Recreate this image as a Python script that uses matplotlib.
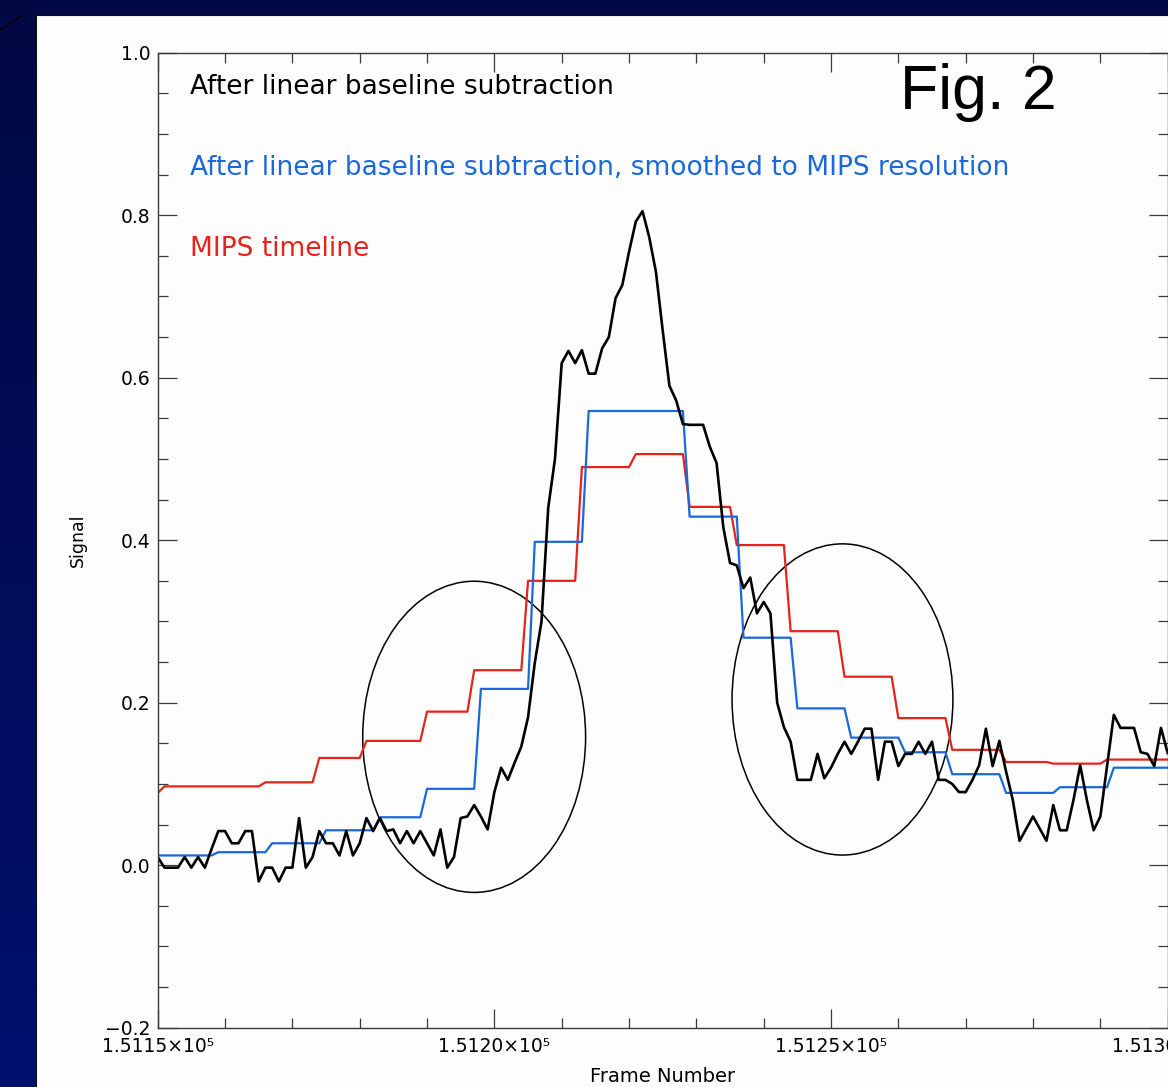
#!/usr/bin/env python3
"""Fig. 2: bolometer timeline against the MIPS timeline across a source."""

import matplotlib

matplotlib.use("Agg")
import matplotlib.pyplot as plt
import numpy as np
from matplotlib.colors import LinearSegmentedColormap
from matplotlib.lines import Line2D
from matplotlib.patches import Ellipse, Rectangle
from matplotlib.ticker import FuncFormatter, MultipleLocator


FIRST_FRAME = 151150
LAST_FRAME = 151300

# one sample per frame, 151150 .. 151300
BASELINE_SUBTRACTED = [
    0.010, -0.003, -0.003, -0.003, 0.010, -0.003, 0.010, -0.003, 0.020, 0.042,
    0.042, 0.027, 0.027, 0.042, 0.042, -0.020, -0.003, -0.003, -0.020, -0.003,
    -0.003, 0.058, -0.003, 0.010, 0.042, 0.027, 0.027, 0.012, 0.042, 0.012,
    0.027, 0.058, 0.042, 0.058, 0.042, 0.044, 0.027, 0.042, 0.027, 0.042,
    0.027, 0.012, 0.044, -0.003, 0.010, 0.058, 0.060, 0.074, 0.060, 0.044,
    0.090, 0.120, 0.105, 0.126, 0.146, 0.182, 0.249, 0.300, 0.440, 0.500,
    0.618, 0.633, 0.618, 0.634, 0.605, 0.605, 0.636, 0.650, 0.698, 0.714,
    0.755, 0.792, 0.805, 0.773, 0.730, 0.658, 0.590, 0.572, 0.543, 0.542,
    0.542, 0.542, 0.515, 0.495, 0.416, 0.372, 0.369, 0.341, 0.354, 0.310,
    0.324, 0.310, 0.200, 0.170, 0.152, 0.105, 0.105, 0.105, 0.137, 0.107,
    0.120, 0.137, 0.152, 0.137, 0.152, 0.168, 0.168, 0.105, 0.152, 0.152,
    0.122, 0.137, 0.137, 0.152, 0.137, 0.152, 0.105, 0.105, 0.100, 0.090,
    0.090, 0.105, 0.123, 0.168, 0.122, 0.153, 0.115, 0.080, 0.030, 0.045,
    0.060, 0.045, 0.030, 0.074, 0.043, 0.043, 0.080, 0.123, 0.080, 0.043,
    0.060, 0.123, 0.185, 0.169, 0.169, 0.169, 0.139, 0.137, 0.122, 0.169,
    0.138,
]

# smoothed curve: first frame of each plateau and its level
SMOOTHED_STARTS = [
    151150, 151159, 151167, 151175, 151183, 151190, 151198, 151206, 151214,
    151229, 151237, 151245, 151253, 151261, 151268, 151276, 151284, 151292,
]
SMOOTHED_LEVELS = [
    0.012, 0.016, 0.027, 0.043, 0.059, 0.094, 0.217, 0.398, 0.559,
    0.429, 0.280, 0.193, 0.157, 0.139, 0.112, 0.089, 0.096, 0.120,
]

MIPS_STARTS = [
    151150, 151151, 151166, 151174, 151181, 151190, 151197, 151205, 151213,
    151221, 151229, 151236, 151244, 151252, 151260, 151268, 151276, 151283,
    151291,
]
MIPS_LEVELS = [
    0.089, 0.097, 0.102, 0.132, 0.153, 0.189, 0.240, 0.350, 0.490,
    0.506, 0.441, 0.394, 0.288, 0.232, 0.181, 0.142, 0.127, 0.125,
    0.130,
]

# hand-drawn ellipses marking the wings
MARK_FRAME = [151197.0, 151251.7]
MARK_SIGNAL = [0.158, 0.204]
MARK_WIDTH = [33.1, 32.8]
MARK_HEIGHT = [0.383, 0.383]

LABELS = [
    "After linear baseline subtraction",
    "After linear baseline subtraction, smoothed to MIPS resolution",
    "MIPS timeline",
]
LABEL_SIGNAL = [0.949, 0.849, 0.750]

BLACK = "#000000"
BLUE = "#1a68dc"
RED = "#e4231b"
AXIS_GREY = "#3a3a3a"


def expand_steps(frames, starts, levels):
    idx = np.searchsorted(starts, frames, side="right") - 1
    return np.asarray(levels)[idx]


def add_background(fig):
    bg = fig.add_axes([0, 0, 1, 1], zorder=-3)
    navy = LinearSegmentedColormap.from_list("navy", ["#010843", "#02106e"])
    bg.imshow(np.linspace(0, 1, 256).reshape(-1, 1), cmap=navy, aspect="auto",
              extent=[0, 1, 0, 1])
    bg.set_axis_off()
    fig.add_artist(Rectangle((36 / 1168, -0.01), 1.0, 1 - 15 / 1087 + 0.01,
                             transform=fig.transFigure, facecolor="#fdfdfd",
                             edgecolor="#111111", linewidth=0.8, zorder=-2))
    fig.add_artist(Line2D([0, 21 / 1168], [1 - 30 / 1087, 1 - 16 / 1087],
                          transform=fig.transFigure, color="black", linewidth=1.0))


def main():
    frames = np.arange(FIRST_FRAME, LAST_FRAME + 1)
    smoothed = expand_steps(frames, SMOOTHED_STARTS, SMOOTHED_LEVELS)
    mips = expand_steps(frames, MIPS_STARTS, MIPS_LEVELS)

    fig = plt.figure(figsize=(11.68, 10.87), dpi=100)
    add_background(fig)

    ax = fig.add_axes([157.7 / 1168, 59.3 / 1087, 1010 / 1168, 975 / 1087])
    ax.set_facecolor("none")

    ax.plot(frames, mips, color=RED, linewidth=1.6)
    ax.plot(frames, smoothed, color=BLUE, linewidth=1.6)
    ax.plot(frames, BASELINE_SUBTRACTED, color=BLACK, linewidth=1.9)

    for fx, fy, w, h in zip(MARK_FRAME, MARK_SIGNAL, MARK_WIDTH, MARK_HEIGHT):
        ax.add_patch(Ellipse((fx, fy), w, h, fill=False, edgecolor="black",
                             linewidth=1.1))

    for text, y, color in zip(LABELS, LABEL_SIGNAL, [BLACK, BLUE, RED]):
        ax.text(151154.8, y, text, color=color, fontsize=19, va="baseline")
    ax.text(151260.2, 0.931, "Fig. 2", fontsize=45, family="Liberation Sans",
            va="baseline")

    ax.set_xlim(FIRST_FRAME, LAST_FRAME)
    ax.set_ylim(-0.2, 1.0)
    ax.xaxis.set_major_locator(MultipleLocator(50))
    ax.xaxis.set_minor_locator(MultipleLocator(10))
    ax.yaxis.set_major_locator(MultipleLocator(0.2))
    ax.yaxis.set_minor_locator(MultipleLocator(0.05))
    ax.xaxis.set_major_formatter(FuncFormatter(lambda v, _: f"{v / 1e5:.4f}×10⁵"))
    ax.yaxis.set_major_formatter(FuncFormatter(lambda v, _: f"{v:.1f}".replace("-", "−")))

    ax.tick_params(which="both", direction="in", top=True, right=True,
                   color=AXIS_GREY, width=0.9, labelsize=13.5)
    ax.tick_params(which="major", length=14)
    ax.tick_params(which="minor", length=7.5)
    ax.tick_params(axis="x", pad=7)
    ax.tick_params(axis="y", pad=5)
    for spine in ax.spines.values():
        spine.set_color(AXIS_GREY)
        spine.set_linewidth(1.0)

    ax.set_xlabel("Frame Number", fontsize=14)
    ax.set_ylabel("Signal", fontsize=12.5)
    ax.xaxis.set_label_coords(0.5, -0.040)
    ax.yaxis.set_label_coords(-0.070, 0.5)

    fig.savefig("out.png", dpi=100)
    plt.close(fig)


if __name__ == "__main__":
    main()
